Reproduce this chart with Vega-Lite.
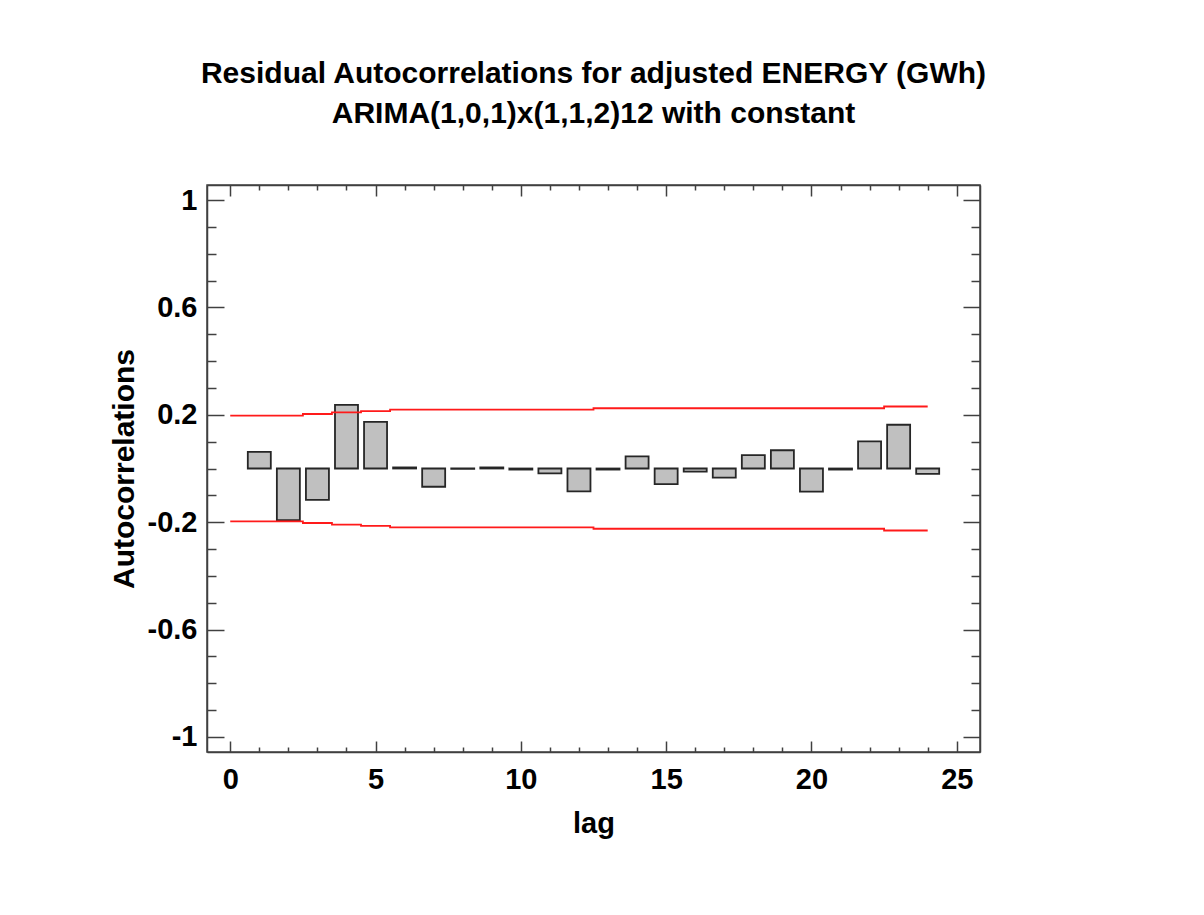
{
  "$schema": "https://vega.github.io/schema/vega-lite/v6.json",
  "width": 773,
  "height": 567,
  "autosize": {"type": "none"},
  "padding": {"left": 207, "top": 185, "right": 224, "bottom": 163},
  "background": "white",
  "config": {
    "view": {"stroke": "#404040", "strokeWidth": 1.5},
    "font": "Liberation Sans"
  },
  "title": {
    "text": ["Residual Autocorrelations for adjusted ENERGY (GWh)", "ARIMA(1,0,1)x(1,1,2)12 with constant"],
    "font": "Liberation Sans",
    "fontSize": 30,
    "fontWeight": "bold",
    "color": "black",
    "lineHeight": 40,
    "anchor": "middle",
    "offset": 55
  },
  "datasets": {
    "acf": [
      {"lag": 1, "acf": 0.062}, {"lag": 2, "acf": -0.192}, {"lag": 3, "acf": -0.117},
      {"lag": 4, "acf": 0.237}, {"lag": 5, "acf": 0.174}, {"lag": 6, "acf": 0.004},
      {"lag": 7, "acf": -0.068}, {"lag": 8, "acf": -0.001}, {"lag": 9, "acf": 0.004},
      {"lag": 10, "acf": -0.004}, {"lag": 11, "acf": -0.018}, {"lag": 12, "acf": -0.085},
      {"lag": 13, "acf": -0.004}, {"lag": 14, "acf": 0.045}, {"lag": 15, "acf": -0.058},
      {"lag": 16, "acf": -0.012}, {"lag": 17, "acf": -0.034}, {"lag": 18, "acf": 0.05},
      {"lag": 19, "acf": 0.068}, {"lag": 20, "acf": -0.086}, {"lag": 21, "acf": -0.004},
      {"lag": 22, "acf": 0.101}, {"lag": 23, "acf": 0.163}, {"lag": 24, "acf": -0.02}
    ],
    "limits": [
      {"lag": 0, "upper": 0.197, "lower": -0.197}, {"lag": 1, "upper": 0.197, "lower": -0.197},
      {"lag": 2, "upper": 0.197, "lower": -0.197}, {"lag": 3, "upper": 0.203, "lower": -0.203},
      {"lag": 4, "upper": 0.209, "lower": -0.209}, {"lag": 5, "upper": 0.214, "lower": -0.214},
      {"lag": 6, "upper": 0.219, "lower": -0.219}, {"lag": 7, "upper": 0.219, "lower": -0.219},
      {"lag": 8, "upper": 0.219, "lower": -0.219}, {"lag": 9, "upper": 0.219, "lower": -0.219},
      {"lag": 10, "upper": 0.219, "lower": -0.219}, {"lag": 11, "upper": 0.219, "lower": -0.219},
      {"lag": 12, "upper": 0.219, "lower": -0.219}, {"lag": 13, "upper": 0.2245, "lower": -0.2245},
      {"lag": 14, "upper": 0.2245, "lower": -0.2245}, {"lag": 15, "upper": 0.2245, "lower": -0.2245},
      {"lag": 16, "upper": 0.2245, "lower": -0.2245}, {"lag": 17, "upper": 0.2245, "lower": -0.2245},
      {"lag": 18, "upper": 0.2245, "lower": -0.2245}, {"lag": 19, "upper": 0.2245, "lower": -0.2245},
      {"lag": 20, "upper": 0.2245, "lower": -0.2245}, {"lag": 21, "upper": 0.2245, "lower": -0.2245},
      {"lag": 22, "upper": 0.2245, "lower": -0.2245}, {"lag": 23, "upper": 0.231, "lower": -0.231},
      {"lag": 24, "upper": 0.231, "lower": -0.231}
    ]
  },
  "resolve": {"axis": {"x": "independent", "y": "independent"}},
  "layer": [
    {
      "data": {"name": "acf"},
      "mark": {"type": "bar", "width": 23, "fill": "#c0c0c0", "stroke": "#262626", "strokeWidth": 1.8},
      "encoding": {
        "x": {
          "field": "lag", "type": "quantitative",
          "scale": {"domain": [-0.8, 25.8], "nice": false, "zero": false, "padding": 0},
          "axis": {
            "orient": "bottom",
            "values": [0,1,2,3,4,5,6,7,8,9,10,11,12,13,14,15,16,17,18,19,20,21,22,23,24,25],
            "title": "lag",
            "titleFont": "Liberation Sans", "titleFontSize": 29, "titleFontWeight": "bold", "titleColor": "black",
            "titlePadding": 9,
            "labelExpr": "datum.value % 5 === 0 ? datum.label : ''",
            "labelFont": "Liberation Sans", "labelFontSize": 29, "labelFontWeight": "bold", "labelColor": "black",
            "labelPadding": 24, "labelFlush": false, "labelOverlap": false,
            "tickSize": {"condition": {"test": "datum.value % 5 === 0", "value": -11}, "value": -5},
            "tickColor": "#404040", "tickWidth": 1.5,
            "domainColor": "#404040", "domainWidth": 1.5,
            "grid": false
          }
        },
        "y": {
          "field": "acf", "type": "quantitative",
          "scale": {"domain": [-1.056, 1.056], "nice": false, "zero": false, "padding": 0},
          "axis": {
            "orient": "left",
            "values": [-1,-0.9,-0.8,-0.7,-0.6,-0.5,-0.4,-0.3,-0.2,-0.1,0,0.1,0.2,0.3,0.4,0.5,0.6,0.7,0.8,0.9,1],
            "title": "Autocorrelations",
            "titleFont": "Liberation Sans", "titleFontSize": 30, "titleFontWeight": "bold", "titleColor": "black",
            "titlePadding": 8,
            "labelExpr": "abs(round(datum.value*10)) % 4 === 2 ? '' + round(datum.value*10)/10 : ''",
            "labelFont": "Liberation Sans", "labelFontSize": 29, "labelFontWeight": "bold", "labelColor": "black",
            "labelPadding": 27, "labelFlush": false, "labelOverlap": false,
            "tickSize": {"condition": {"test": "abs(round(datum.value*10)) % 4 === 2", "value": -17}, "value": -9},
            "tickColor": "#404040", "tickWidth": 1.5,
            "domainColor": "#404040", "domainWidth": 1.5,
            "grid": false
          }
        }
      }
    },
    {
      "data": {"name": "limits"},
      "mark": {"type": "line", "color": "#ff1a1a", "strokeWidth": 1.8, "interpolate": "step"},
      "encoding": {
        "x": {
          "field": "lag", "type": "quantitative",
          "axis": {
            "orient": "top",
            "values": [0,1,2,3,4,5,6,7,8,9,10,11,12,13,14,15,16,17,18,19,20,21,22,23,24,25],
            "title": null, "labels": false,
            "tickSize": {"condition": {"test": "datum.value % 5 === 0", "value": -11}, "value": -5},
            "tickColor": "#404040", "tickWidth": 1.5,
            "domainColor": "#404040", "domainWidth": 1.5,
            "grid": false
          }
        },
        "y": {
          "field": "upper", "type": "quantitative",
          "axis": {
            "orient": "right",
            "values": [-1,-0.9,-0.8,-0.7,-0.6,-0.5,-0.4,-0.3,-0.2,-0.1,0,0.1,0.2,0.3,0.4,0.5,0.6,0.7,0.8,0.9,1],
            "title": null, "labels": false,
            "tickSize": {"condition": {"test": "abs(round(datum.value*10)) % 4 === 2", "value": -17}, "value": -9},
            "tickColor": "#404040", "tickWidth": 1.5,
            "domainColor": "#404040", "domainWidth": 1.5,
            "grid": false
          }
        }
      }
    },
    {
      "data": {"name": "limits"},
      "mark": {"type": "line", "color": "#ff1a1a", "strokeWidth": 1.8, "interpolate": "step"},
      "encoding": {
        "x": {"field": "lag", "type": "quantitative", "axis": null},
        "y": {"field": "lower", "type": "quantitative", "axis": null}
      }
    }
  ]
}
